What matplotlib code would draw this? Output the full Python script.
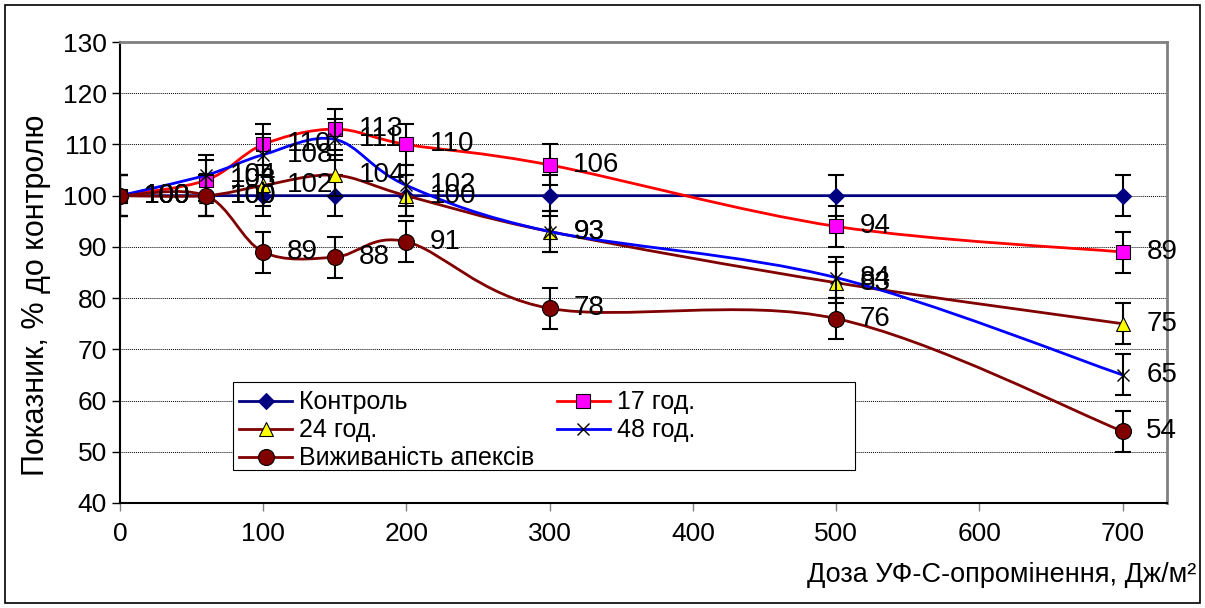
import numpy as np
import matplotlib
matplotlib.use("Agg")
import matplotlib.pyplot as plt
from matplotlib.path import Path
from matplotlib.patches import PathPatch, Rectangle
from matplotlib.lines import Line2D

plt.rcParams["font.family"] = ["Liberation Sans", "DejaVu Sans"]

# ── data ──
dose = [0, 60, 100, 150, 200, 300, 500, 700]
control = [100, 100, 100, 100, 100, 100, 100, 100]
h17 = [100, 103, 110, 113, 110, 106, 94, 89]
h24 = [100, 100, 102, 104, 100, 93, 83, 75]
h48 = [100, 104, 108, 111, 102, 93, 84, 65]
survival = [100, 100, 89, 88, 91, 78, 76, 54]
err = 4

series = [
    # label, values, line colour, marker, face, edge, size, show labels
    ("Контроль", control, "#000080", "D", "#000080", "#000080", 8, False),
    ("17 год.", h17, "#FF0000", "s", "#FF00FF", "#000000", 10.5, True),
    ("24 год.", h24, "#800000", "^", "#FFFF00", "#000000", 10.5, True),
    ("48 год.", h48, "#0000FF", "x", "none", "#000000", 9, True),
    ("Виживаність апексів", survival, "#800000", "o", "#800000", "#000000", 11.5, True),
]


def smooth_path(xs, ys):
    # Excel-like smoothed line: cubic Bezier through each point
    p = np.column_stack([xs, ys]).astype(float)
    n = len(p)
    verts = [p[0]]
    codes = [Path.MOVETO]
    for i in range(n - 1):
        prev = p[i - 1] if i > 0 else p[i]
        nxt = p[i + 2] if i + 2 < n else p[i + 1]
        c1 = p[i] + (p[i + 1] - prev) / 6.0
        c2 = p[i + 1] - (nxt - p[i]) / 6.0
        verts += [c1, c2, p[i + 1]]
        codes += [Path.CURVE4] * 3
    return Path(verts, codes)


fig = plt.figure(figsize=(12.05, 6.08), dpi=100, facecolor="white")
ax = fig.add_axes([0.0996, 0.1727, 0.8689, 0.7582])

# outer chart border
fig.patches.append(Rectangle((0.004, 0.008), 0.992, 0.984, transform=fig.transFigure,
                             fill=False, edgecolor="#000000", linewidth=1.2))

ax.set_xlim(0, 731)
ax.set_ylim(40, 130)
ax.set_yticks(range(40, 131, 10))
ax.set_xticks(range(0, 701, 100))
for yv in range(50, 130, 10):
    ax.axhline(yv, color="#000000", linestyle=(0, (1, 1)), linewidth=0.7, zorder=1)

handles = {}
for k, (name, vals, lc, mk, fc, ec, ms, lab) in enumerate(series):
    z = 2 + k * 0.1
    ax.add_patch(PathPatch(smooth_path(dose, vals), fill=False, edgecolor=lc,
                           linewidth=2.0, zorder=z))
    ax.errorbar(dose, vals, yerr=err, fmt="none", ecolor="#000000", elinewidth=1.5,
                capsize=6, capthick=1.5, zorder=z + 0.02)
    if mk == "x":
        ax.plot(dose, vals, linestyle="none", marker=mk, markersize=ms,
                markeredgecolor=ec, markeredgewidth=1.0, zorder=z + 0.04)
    else:
        ax.plot(dose, vals, linestyle="none", marker=mk, markersize=ms,
                markerfacecolor=fc, markeredgecolor=ec, markeredgewidth=0.8, zorder=z + 0.04)
    if lab:
        for xv, yv in zip(dose, vals):
            ax.annotate(str(yv), (xv, yv), xytext=(17, 0), textcoords="offset points",
                        ha="left", va="center", fontsize=20, color="#000000", zorder=6)
    handles[name] = Line2D([], [], color=lc, linewidth=2.0, marker=mk, markersize=ms,
                           markerfacecolor=fc, markeredgecolor=ec,
                           markeredgewidth=1.0 if mk == "x" else 0.8)

# legend box drawn by hand so the columns keep their natural spacing
ax.add_patch(Rectangle((0.108, 0.0716), 0.594, 0.191, transform=ax.transAxes,
                       facecolor="white", edgecolor="#000000", linewidth=0.8, zorder=6.9))
order = ["Контроль", "24 год.", "Виживаність апексів", "17 год.", "48 год."]
leg = ax.legend([handles[o] for o in order], order, ncol=2, loc="upper left",
                bbox_to_anchor=(0.108, 0.258), borderaxespad=0, fontsize=18,
                frameon=False, handlelength=2.1, handletextpad=0.3,
                labelspacing=0.16, borderpad=0.25, columnspacing=0.9)
leg.set_zorder(7)

for side in ["top", "right"]:
    ax.spines[side].set_color("#808080")
    ax.spines[side].set_linewidth(2)
for side in ["left", "bottom"]:
    ax.spines[side].set_color("#000000")
    ax.spines[side].set_linewidth(1.5)

ax.tick_params(axis="both", direction="out", length=6, width=1, labelsize=19, color="#000000")
ax.tick_params(axis="x", pad=8, color="#808080")

ax.set_ylabel("Показник, % до контролю", fontsize=22)
ax.yaxis.set_label_coords(-0.066, 0.45)
fig.text(0.993, 0.055, "Доза УФ-С-опромінення, Дж/м²", ha="right", va="center", fontsize=19.5)

fig.savefig("out.png", dpi=100, facecolor="white")
